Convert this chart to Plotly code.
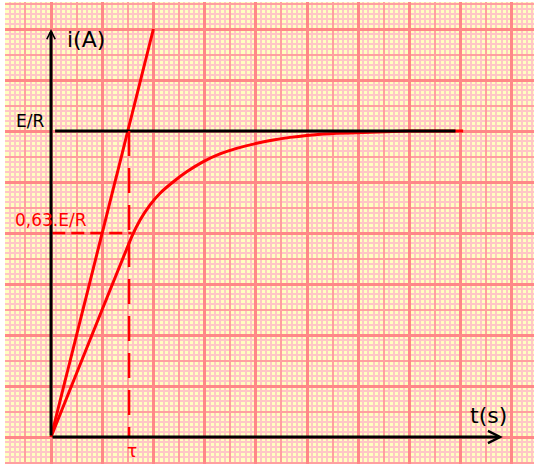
import plotly.graph_objects as go

# grid units: 1 unit = one medium square of the graph paper
E_R = 12.0          # asymptote E/R
I_063 = 8.0         # level marked 0,63.E/R
TAU = 3.05          # time constant

curve_t = [0, 1.6, 3.15, 3.48, 3.87, 4.26, 4.78, 5.30, 5.95, 6.60, 7.25, 8.04,
           8.68, 9.34, 9.99, 10.64, 11.16, 12.2, 13.9, 16.1]
curve_i = [0, 4.0, 7.85, 8.51, 9.10, 9.56, 10.01, 10.40, 10.80, 11.10, 11.32, 11.52,
           11.65, 11.75, 11.82, 11.88, 11.91, 11.94, 12.0, 12.0]

tangent_t = [0, 4.0]
tangent_i = [0, 16.0]

asym_t = [0.16, 15.8]

x_range = [-1.797, 18.867]
y_range = [-1.059, 17.059]

RED = "#FF0000"
FONT = "Verdana, DejaVu Sans, sans-serif"

fig = go.Figure()

# invisible trace so the overlay axes (thick grid) get drawn
fig.add_trace(go.Scatter(x=[0], y=[0], xaxis="x2", yaxis="y2", mode="markers",
                         marker=dict(opacity=0), hoverinfo="skip", showlegend=False))

# charging curve
fig.add_trace(go.Scatter(x=curve_t, y=curve_i, mode="lines",
                         line=dict(color=RED, width=3, shape="spline", smoothing=0.3),
                         showlegend=False))
# tangent at origin
fig.add_trace(go.Scatter(x=tangent_t, y=tangent_i, mode="lines",
                         line=dict(color=RED, width=3), showlegend=False))
# E/R asymptote
fig.add_trace(go.Scatter(x=asym_t, y=[E_R, E_R], mode="lines",
                         line=dict(color="black", width=3), showlegend=False))
# dashed construction lines
fig.add_trace(go.Scatter(x=[0.05, TAU + 0.1], y=[I_063, I_063], mode="lines",
                         line=dict(color=RED, width=2.5, dash="13px,6px"), showlegend=False))
fig.add_trace(go.Scatter(x=[TAU, TAU], y=[E_R, 0], mode="lines",
                         line=dict(color=RED, width=2.5, dash="25px,12px"), showlegend=False))

# axes with arrow heads
fig.add_annotation(x=0, y=16.0, ax=0, ay=0, xref="x", yref="y", axref="x", ayref="y",
                   text="", showarrow=True, arrowhead=5, arrowsize=0.55,
                   arrowwidth=3, arrowcolor="black", standoff=0)
fig.add_annotation(x=17.65, y=0, ax=0, ay=0, xref="x", yref="y", axref="x", ayref="y",
                   text="", showarrow=True, arrowhead=5, arrowsize=0.8,
                   arrowwidth=3, arrowcolor="black", standoff=0)

labels = [
    ("i(A)", 1.35, 15.57, "black", 22),
    ("E/R", -0.82, 12.4, "black", 17),
    ("0,63.E/R", 0.0, 8.5, RED, 17),
    ("τ", 3.16, -0.55, RED, 17),
    ("t(s)", 17.1, 0.85, "black", 22),
]
for txt, x, y, col, size in labels:
    fig.add_annotation(x=x, y=y, xref="x", yref="y", text=txt, showarrow=False,
                       xanchor="center", yanchor="middle",
                       font=dict(family=FONT, size=size, color=col))

fine_axis = dict(range=x_range, dtick=1, tick0=0, showgrid=True, gridcolor="#FFA0A0",
                 gridwidth=2, zeroline=False, showticklabels=False, ticks="",
                 showline=False, fixedrange=True,
                 minor=dict(dtick=0.2, tick0=0, showgrid=True, gridcolor="#FFC6C6",
                            gridwidth=1.5))
major_axis = dict(dtick=2, tick0=0, showgrid=True, gridcolor="#FF8888", gridwidth=3,
                  zeroline=False, showticklabels=False, ticks="", showline=False,
                  fixedrange=True)

fig.update_layout(
    width=534, height=464,
    margin=dict(l=5, r=0, t=2, b=0),
    paper_bgcolor="white",
    plot_bgcolor="#FFFFC0",
    xaxis=fine_axis,
    yaxis=dict(fine_axis, range=y_range),
    xaxis2=dict(major_axis, range=x_range, overlaying="x"),
    yaxis2=dict(major_axis, range=y_range, overlaying="y"),
)

# drop the page's default body margin so the figure sits at the top-left corner
fig.write_html("out.html", config={"displayModeBar": False},
               post_script="document.body.style.margin='0';")
